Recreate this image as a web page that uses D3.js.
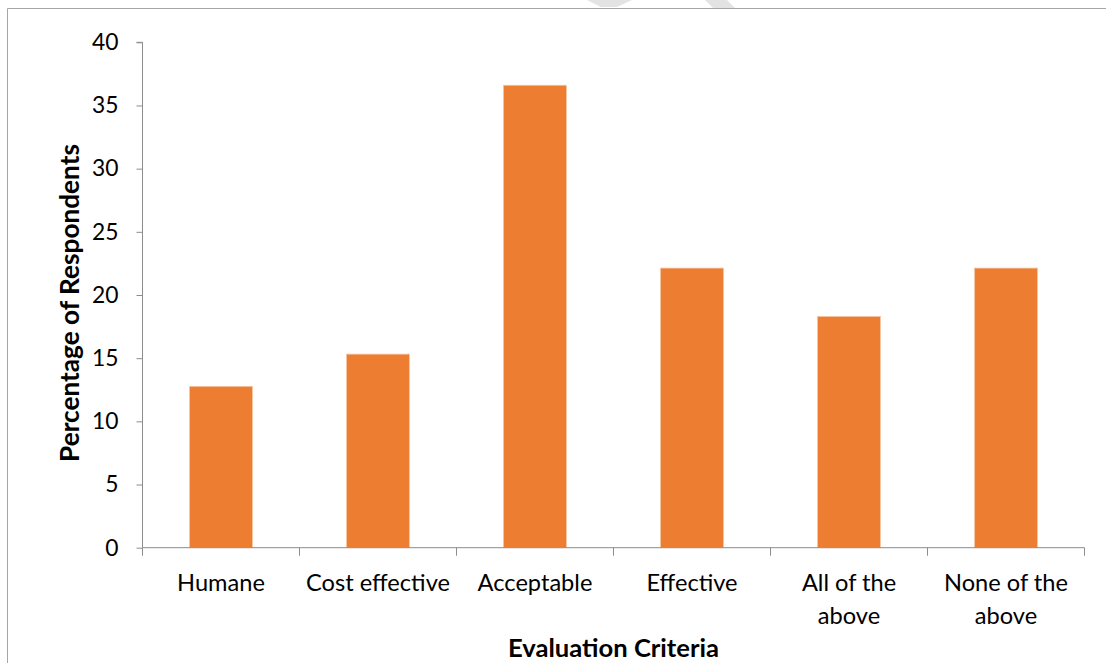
<!DOCTYPE html>
<html>
<head>
<meta charset="utf-8">
<script src="https://cdn.jsdelivr.net/npm/d3@7"></script>
<style>
  html, body { margin: 0; padding: 0; background: #fff; }
  svg { display: block; }
  text { font-family: Lato, "Open Sans", sans-serif; fill: #000; }
</style>
</head>
<body>
<svg id="chart" width="1106" height="663"></svg>
<script>
const categories = ["Humane", "Cost effective", "Acceptable", "Effective", "All of the above", "None of the above"];
const categoryLines = [["Humane"], ["Cost effective"], ["Acceptable"], ["Effective"], ["All of the", "above"], ["None of the", "above"]];
const values = [12.77, 15.32, 36.6, 22.13, 18.3, 22.13];
const yTicks = [0, 5, 10, 15, 20, 25, 30, 35, 40];
const xTitle = "Evaluation Criteria";
const yTitle = "Percentage of Respondents";

(function () {
const W = 1106, H = 663;
const svg = d3.select("#chart");

// faint watermark fragments at the top edge
svg.append("polygon").attr("points", "587,0 632,0 617,7 601,7").attr("fill", "#e3e3e3");
svg.append("polygon").attr("points", "705,0 727,0 735,8 713,8").attr("fill", "#e3e3e3");

// outer frame
svg.append("path").attr("d", `M7.5,${H} V8.5 H${W}`).attr("fill", "none").attr("stroke", "#a6a6a6").attr("stroke-width", 1);

const pLeft = 142.5, pRight = 1084.5, pTop = 42.3, pBottom = 547.7;

const x = d3.scaleBand().domain(categories).range([pLeft, pRight]).paddingInner(0.6).paddingOuter(0.3);
const y = d3.scaleLinear().domain([0, 40]).range([pBottom, pTop]);

// fit font size to match the reference widths
function fit(str, target, weight) {
  const t = svg.append("text").attr("font-size", 100).attr("font-weight", weight).text(str);
  const w = t.node().getComputedTextLength();
  t.remove();
  return 100 * target / w;
}
const fsCat = fit("Cost effective", 144, "normal");
const fsTick = fit("40", 26.5, "normal");
const fsTitle = fit(xTitle, 211, "bold");
const fsYTitle = fit(yTitle, 318, "bold");

// bars
svg.append("g").selectAll("rect").data(values).join("rect")
  .attr("x", (d, i) => x(categories[i]))
  .attr("width", x.bandwidth())
  .attr("y", d => y(d))
  .attr("height", d => y(0) - y(d))
  .attr("fill", "#ED7D31")
  .attr("stroke", "#f6c3a0")
  .attr("stroke-width", 0.8);

// y axis
const yAxis = svg.append("g").attr("transform", `translate(${pLeft},0)`)
  .call(d3.axisLeft(y).tickValues(yTicks).tickSize(6).tickPadding(18).tickFormat(d3.format("d")));
yAxis.select(".domain").attr("stroke", "#8c8c8c").attr("d", `M-6,${y(40)}H0V${y(0)}`);
yAxis.selectAll(".tick line").attr("stroke", "#8c8c8c");
yAxis.selectAll(".tick text").attr("font-size", fsTick).attr("font-family", "Lato").attr("fill", "#000");

// x axis
const xTickPos = categories.map(c => x(c) - x.step() * x.paddingInner() / 2).concat([pRight]);
svg.append("line").attr("x1", pLeft).attr("x2", pRight).attr("y1", pBottom).attr("y2", pBottom).attr("stroke", "#8c8c8c");
svg.append("g").selectAll("line").data(xTickPos).join("line")
  .attr("x1", d => d).attr("x2", d => d).attr("y1", pBottom).attr("y2", pBottom + 8).attr("stroke", "#8c8c8c");

// category labels
const catG = svg.append("g");
categoryLines.forEach((lines, i) => {
  const cx = x(categories[i]) + x.bandwidth() / 2;
  lines.forEach((ln, j) => {
    catG.append("text").attr("x", cx).attr("y", 582 + j * 33)
      .attr("text-anchor", "middle").attr("dominant-baseline", "central")
      .attr("font-size", fsCat).text(ln);
  });
});

// axis titles
svg.append("text").attr("x", (pLeft + pRight) / 2).attr("y", 647)
  .attr("text-anchor", "middle").attr("dominant-baseline", "central")
  .attr("font-weight", "bold").attr("font-size", fsTitle).text(xTitle);
svg.append("text").attr("transform", `translate(69,${(143 + 463) / 2}) rotate(-90)`)
  .attr("text-anchor", "middle").attr("dominant-baseline", "central")
  .attr("font-weight", "bold").attr("font-size", fsYTitle).text(yTitle);
})();
</script>
</body>
</html>
